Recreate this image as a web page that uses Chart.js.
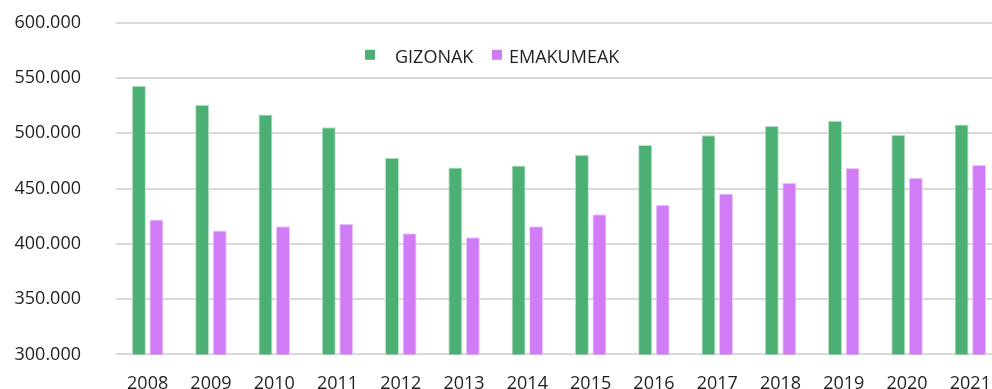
<!DOCTYPE html>
<html>
<head>
<meta charset="utf-8">
<script src="https://cdn.jsdelivr.net/npm/chart.js@4/dist/chart.umd.min.js"></script>
<style>
  html, body { margin: 0; padding: 0; background: #fff; overflow: hidden; }
  #wrap { position: absolute; left: 0; top: -23px; width: 1002px; height: 429px; }
</style>
</head>
<body>
<div id="wrap"><canvas id="c"></canvas></div>
<script>
// Population by sex, 2008–2021
const years = ['2008','2009','2010','2011','2012','2013','2014','2015','2016','2017','2018','2019','2020','2021'];
const gizonak = [543000, 525900, 517100, 505400, 478000, 469000, 471000, 480700, 489500, 498200, 506600, 511400, 498800, 508100];
const emakumeak = [422000, 412000, 415900, 418100, 409600, 406000, 415900, 426800, 435500, 445500, 455400, 468700, 459900, 471400];
const seriesNames = ['GIZONAK', 'EMAKUMEAK'];
const yTicks = [300000, 350000, 400000, 450000, 500000, 550000, 600000];

const FONT = '"Open Sans", "Liberation Sans", sans-serif';
const TEXT = '#1f1f1f';

const fmt = v => Math.round(v).toString().replace(/\B(?=(\d{3})+(?!\d))/g, '.');

// Legend drawn inside the plot, above the bars
const innerLegend = {
  id: 'innerLegend',
  afterDraw(chart) {
    const ctx = chart.ctx;
    ctx.save();
    ctx.font = '18px ' + FONT;
    ctx.textBaseline = 'middle';
    const y = chart.chartArea.top + 32;
    const items = [
      { x: 365, tx: 395, ds: chart.data.datasets[0] },
      { x: 492, tx: 509, ds: chart.data.datasets[1] }
    ];
    items.forEach(it => {
      ctx.fillStyle = it.ds.backgroundColor;
      ctx.fillRect(it.x, y - 5, 10, 10);
      ctx.fillStyle = TEXT;
      ctx.fillText(it.ds.label, it.tx, y + 3);
    });
    ctx.restore();
  }
};

new Chart(document.getElementById('c'), {
  type: 'bar',
  data: {
    labels: years,
    datasets: [
      { label: seriesNames[0], data: gizonak, backgroundColor: '#4caf73', borderColor: '#b9e3c6', borderWidth: 1 },
      { label: seriesNames[1], data: emakumeak, backgroundColor: '#d17cf7', borderColor: '#edc9fb', borderWidth: 1 }
    ]
  },
  options: {
    responsive: true,
    maintainAspectRatio: false,
    animation: false,
    datasets: { bar: { categoryPercentage: 0.554, barPercentage: 0.8 } },
    layout: { padding: { top: 0, right: 0, left: 0, bottom: 0 } },
    plugins: { legend: { display: false }, tooltip: { enabled: false } },
    scales: {
      x: {
        grid: { display: false },
        border: { display: false },
        ticks: { color: TEXT, font: { family: FONT, size: 18 }, padding: 11, maxRotation: 0 }
      },
      y: {
        min: 300000,
        max: 600000,
        afterBuildTicks(scale) { scale.ticks = yTicks.map(v => ({ value: v })); },
        afterFit(scale) { scale.width = 116; },
        grid: { color: '#d9d9d9', lineWidth: 2, drawTicks: false },
        border: { display: false },
        ticks: { color: TEXT, font: { family: FONT, size: 18 }, padding: 35, callback: v => fmt(v) }
      }
    }
  },
  plugins: [innerLegend]
});
</script>
</body>
</html>
